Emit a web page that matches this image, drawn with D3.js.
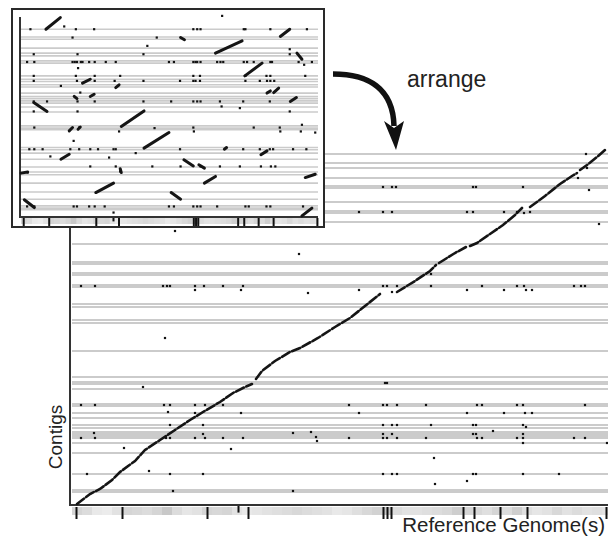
<!DOCTYPE html>
<html>
<head>
<meta charset="utf-8">
<script src="https://cdn.jsdelivr.net/npm/d3@7"></script>
<style>
  body { margin: 0; background: #fff; }
  text { font-family: Helvetica, "Liberation Sans", Arial, sans-serif; fill: #222; }
</style>
</head>
<body>
<svg id="chart" width="608" height="538"></svg>
<script>
// reference genome: contig boundaries and read coverage (bins of 10 units)
const refTicks = [4, 50, 135, 176, 311, 315, 319, 391, 402, 428, 455, 534];
const refShortTicks = [166];
const coverage = [0.5, 0.4, 0.2, 0.15, 0.3, 0.5, 0.45, 0.4, 0.5, 0.7, 0.4, 0.25, 0.3, 0.5,
  0.45, 0.5, 0.3, 0.2, 0.25, 0.3, 0.35, 0.4, 0.45, 0.4, 0.35, 0.3, 0.2, 0.25, 0.35, 0.45,
  0.55, 0.7, 0.4, 0.3, 0.3, 0.35, 0.4, 0.45, 0.6, 0.5, 0.45, 0.35, 0.5, 0.4, 0.6, 0.35,
  0.25, 0.3, 0.45, 0.3, 0.4, 0.3, 0.35, 0.3];

// arranged contigs (main plot)
const mainRows = [351, 342, 337, 327, 319, 317, 303, 294, 292, 283, 261, 243, 241, 232, 230,
  220, 218, 201, 198, 185, 182, 154, 128, 123, 121, 116, 101, 99, 92, 87, 80, 77, 73, 71,
  69, 67, 62, 52, 31, 15, 13];

const alignedContigs = [
  [[5, 1], [18, 11], [28, 16], [40, 25], [48, 33], [63, 44], [73, 55], [88, 65], [103, 75],
   [118, 85], [131, 93], [148, 103], [161, 112], [173, 118], [180, 121]],
  [[184, 126], [190, 134], [203, 144], [218, 153], [228, 157], [246, 167], [263, 178],
   [278, 187], [293, 199], [308, 211]],
  [[325, 213], [343, 224], [358, 234], [364, 240]],
  [[367, 242], [383, 252], [394, 258]],
  [[398, 259], [405, 262], [418, 271], [431, 280], [443, 290], [450, 297]],
  [[458, 298], [473, 309], [488, 321], [500, 329], [505, 332]],
  [[508, 335], [515, 340], [525, 348], [533, 355]]
];

const mainHits = [
  [514, 351], [311, 318], [320, 318], [324, 318], [401, 318], [404, 318], [451, 318],
  [287, 293], [311, 293], [320, 293], [395, 293], [401, 293], [432, 293], [445, 293], [452, 292], [458, 293],
  [506, 327], [515, 337], [517, 315], [527, 281], [359, 231],
  [287, 215], [311, 219], [315, 219], [320, 213], [325, 219], [359, 219], [395, 215], [410, 219],
  [432, 215], [445, 219], [452, 219], [454, 215], [460, 215], [502, 219], [509, 219], [513, 219],
  [103, 274], [227, 251],
  [9, 219], [23, 219], [91, 219], [95, 219], [98, 219], [123, 219], [123, 215], [132, 219],
  [151, 219], [171, 219], [169, 215], [236, 212], [93, 167], [71, 118],
  [9, 100], [23, 100], [92, 100], [98, 100], [123, 100], [133, 100], [151, 100],
  [96, 93], [123, 92], [169, 92], [98, 80], [131, 80], [22, 72], [131, 71],
  [9, 67], [23, 67], [94, 67], [98, 67], [123, 67], [133, 67], [151, 67], [171, 67],
  [221, 72], [239, 73], [244, 68], [245, 64], [52, 57], [159, 56], [77, 34],
  [15, 31], [98, 31], [131, 31], [101, 14], [221, 14],
  [313, 122], [315, 122],
  [277, 100], [311, 100], [315, 100], [325, 100], [354, 100], [405, 100], [410, 100], [445, 100], [451, 100], [513, 100],
  [287, 92], [395, 92], [432, 92], [453, 92], [460, 92],
  [311, 80], [320, 80], [325, 80], [359, 80], [401, 80], [404, 80], [451, 80], [454, 78], [421, 74],
  [311, 71], [320, 71], [401, 71], [404, 71], [451, 71],
  [277, 67], [311, 67], [315, 67], [325, 67], [354, 67], [405, 67], [410, 67], [445, 67], [451, 67], [502, 67], [513, 67],
  [451, 62], [535, 62], [362, 47],
  [311, 31], [320, 31], [325, 31], [401, 31], [404, 31], [451, 31], [487, 31],
  [363, 21], [395, 24]
];

// unordered contigs (inset)
const rawRows = [338, 324, 320, 304, 295, 290, 281, 277, 254, 248, 244, 238, 234, 223, 217,
  213, 209, 205, 198, 189, 164, 160, 157, 125, 121, 115, 104, 90, 81, 76, 61, 45, 32, 20, 16, 13];

const rawContigs = [
  [[45, 338], [71, 359]], [[468, 325], [485, 338]], [[288, 323], [295, 319]],
  [[351, 295], [399, 317]], [[498, 295], [507, 284]], [[404, 254], [435, 277]],
  [[111, 241], [125, 248]], [[171, 233], [177, 238]], [[444, 223], [450, 227]],
  [[456, 224], [465, 232]], [[125, 217], [132, 221]], [[96, 217], [101, 213]],
  [[23, 206], [47, 190]], [[486, 208], [497, 215]], [[181, 163], [222, 191]],
  [[87, 155], [93, 161]], [[103, 158], [107, 162]], [[222, 124], [267, 152]],
  [[367, 122], [371, 125]], [[72, 104], [87, 113]], [[433, 112], [444, 119]],
  [[294, 103], [311, 92]], [[321, 94], [331, 88]], [[179, 87], [181, 80]],
  [[331, 61], [351, 73]], [[513, 71], [531, 77]], [[135, 44], [167, 61]],
  [[271, 44], [288, 32]], [[6, 31], [24, 17]], [[507, 2], [525, 16]], [[0, 79], [12, 81]]
];

const rawHits = [
  [17, 338], [99, 338], [132, 338], [311, 338], [318, 338], [324, 338], [402, 338], [405, 338], [450, 338], [516, 338],
  [363, 362], [78, 343], [93, 323], [245, 323], [228, 308],
  [23, 293], [102, 293], [221, 293], [485, 302], [485, 293],
  [11, 279], [24, 279], [93, 279], [97, 279], [101, 279], [108, 279], [111, 279], [123, 279], [133, 279],
  [153, 279], [171, 279], [267, 279], [276, 279], [311, 279], [315, 279], [318, 279], [324, 279],
  [354, 279], [360, 279], [365, 279], [402, 279], [408, 279], [420, 279], [450, 279], [453, 279],
  [501, 279], [525, 279], [103, 268], [511, 274],
  [23, 254], [99, 254], [133, 254], [179, 254], [311, 254], [323, 254], [405, 254], [443, 254], [450, 254], [513, 254],
  [23, 245], [101, 245], [133, 245], [169, 245], [221, 245], [287, 245], [311, 245], [315, 245], [323, 245],
  [405, 245], [431, 245], [444, 245], [450, 245], [457, 245], [72, 236], [107, 224],
  [23, 208], [47, 208], [102, 208], [133, 208], [221, 208], [271, 208], [311, 208], [318, 208], [324, 208],
  [359, 208], [401, 208], [449, 208], [362, 199], [395, 196],
  [23, 190], [102, 190], [485, 190],
  [24, 161], [105, 161], [311, 161], [420, 161], [467, 161], [507, 166],
  [177, 154], [241, 160], [312, 154], [468, 154], [505, 154], [531, 152], [95, 137],
  [15, 122], [24, 122], [39, 122], [89, 122], [105, 122], [125, 122], [139, 122], [167, 122], [171, 122],
  [287, 122], [401, 122], [431, 122], [449, 122], [455, 122], [491, 122], [515, 122],
  [53, 109], [159, 107], [207, 115],
  [125, 91], [171, 91], [237, 91], [288, 91], [324, 91], [359, 91], [395, 91], [433, 91], [451, 91], [459, 91],
  [179, 82], [12, 80],
  [11, 19], [24, 19], [95, 19], [101, 19], [123, 19], [133, 19], [151, 19], [267, 19], [276, 19], [311, 19],
  [318, 19], [324, 19], [354, 19], [405, 19], [411, 19], [443, 19], [450, 19], [509, 19], [167, 8]
];

const svg = d3.select('#chart');
const binWidth = 10;
const shade = d3.scaleLinear().domain([0, 1]).range(['#f6f6f6', '#b4b4b4']);

function drawPlot(g, x, y, opt) {
  // contig rows
  g.append('g').selectAll('line')
    .data(opt.rows)
    .enter().append('line')
    .attr('x1', x.range()[0]).attr('x2', x.range()[1])
    .attr('y1', d => y(d)).attr('y2', d => y(d))
    .attr('stroke', '#cbcbcb')
    .attr('stroke-width', opt.rowWidth);

  // coverage strip under the reference axis
  g.append('g').selectAll('rect')
    .data(coverage)
    .enter().append('rect')
    .attr('x', (d, i) => x(i * binWidth))
    .attr('y', opt.stripY)
    .attr('width', (d, i) => Math.max(0, Math.min(x(i * binWidth + binWidth), x.range()[1]) - x(i * binWidth)) + 0.5)
    .attr('height', opt.stripH)
    .attr('fill', d => shade(d));

  // reference contig boundaries
  let ticks = g.append('g')
    .attr('transform', 'translate(0,' + opt.stripY + ')')
    .call(d3.axisBottom(x).tickValues(refTicks).tickSizeInner(opt.tickLen).tickSizeOuter(0).tickFormat(''));
  ticks.select('.domain').remove();
  ticks.selectAll('line').attr('stroke', '#111').attr('stroke-width', 2);

  let shortTicks = g.append('g')
    .attr('transform', 'translate(0,' + (opt.stripY - 1) + ')')
    .call(d3.axisBottom(x).tickValues(refShortTicks).tickSizeInner(opt.tickLen * 0.55).tickSizeOuter(0).tickFormat(''));
  shortTicks.select('.domain').remove();
  shortTicks.selectAll('line').attr('stroke', '#111').attr('stroke-width', 2);

  // axis lines
  g.append('line')
    .attr('x1', opt.axisX).attr('x2', opt.axisX)
    .attr('y1', opt.axisTop).attr('y2', y(0) + 1)
    .attr('stroke', '#333').attr('stroke-width', 2);
  g.append('line')
    .attr('x1', opt.axisX - 1).attr('x2', x.range()[1])
    .attr('y1', y(0)).attr('y2', y(0))
    .attr('stroke', '#333').attr('stroke-width', 2);

  // alignments
  let line = d3.line().x(d => x(d[0])).y(d => y(d[1]));
  g.append('g').selectAll('path')
    .data(opt.contigs)
    .enter().append('path')
    .attr('d', line)
    .attr('fill', 'none')
    .attr('stroke', '#151515')
    .attr('stroke-width', opt.lineWidth)
    .attr('stroke-dasharray', opt.dash)
    .attr('stroke-linecap', 'round');

  // repeat hits
  g.append('g').selectAll('rect')
    .data(opt.hits)
    .enter().append('rect')
    .attr('x', d => x(d[0]) - 1.1)
    .attr('y', d => y(d[1]) - 1.1)
    .attr('width', 2.2)
    .attr('height', 2.2)
    .attr('fill', '#111');
}

// main (arranged) plot
const x = d3.scaleLinear().domain([0, 536]).range([72, 608]);
const y = d3.scaleLinear().domain([0, 360]).range([505, 145]);
drawPlot(svg.append('g'), x, y, {
  rows: mainRows, contigs: alignedContigs, hits: mainHits,
  rowWidth: 2, lineWidth: 2.6, dash: '9,2.5', stripY: 507, stripH: 8, tickLen: 12,
  axisX: 70, axisTop: 146
});

svg.append('text')
  .attr('transform', 'translate(62,437) rotate(-90)')
  .attr('text-anchor', 'middle')
  .style('font-size', '19px')
  .text('Contigs');

svg.append('text')
  .attr('x', 605).attr('y', 532)
  .attr('text-anchor', 'end')
  .style('font-size', '20.5px')
  .text('Reference Genome(s)');

// inset (unordered) plot
svg.append('rect')
  .attr('x', 12).attr('y', 9)
  .attr('width', 312).attr('height', 218)
  .attr('fill', '#fff')
  .attr('stroke', '#2a2a2a')
  .attr('stroke-width', 2);

const xi = d3.scaleLinear().domain([0, 536]).range([21, 318]);
const yi = d3.scaleLinear().domain([0, 360]).range([217, 17]);
drawPlot(svg.append('g'), xi, yi, {
  rows: rawRows, contigs: rawContigs, hits: rawHits,
  rowWidth: 1.6, lineWidth: 3, dash: null, stripY: 218, stripH: 6, tickLen: 8,
  axisX: 20, axisTop: 17
});

// "arrange" arrow
svg.append('path')
  .attr('d', 'M333,74 C368,74 393,88 394,126')
  .attr('fill', 'none')
  .attr('stroke', '#111')
  .attr('stroke-width', 5.5);
svg.append('path')
  .attr('d', 'M384,121 L396,150 L404,121 L394,128 Z')
  .attr('fill', '#111');

svg.append('text')
  .attr('x', 407).attr('y', 87)
  .style('font-size', '23px')
  .text('arrange');
</script>
</body>
</html>
